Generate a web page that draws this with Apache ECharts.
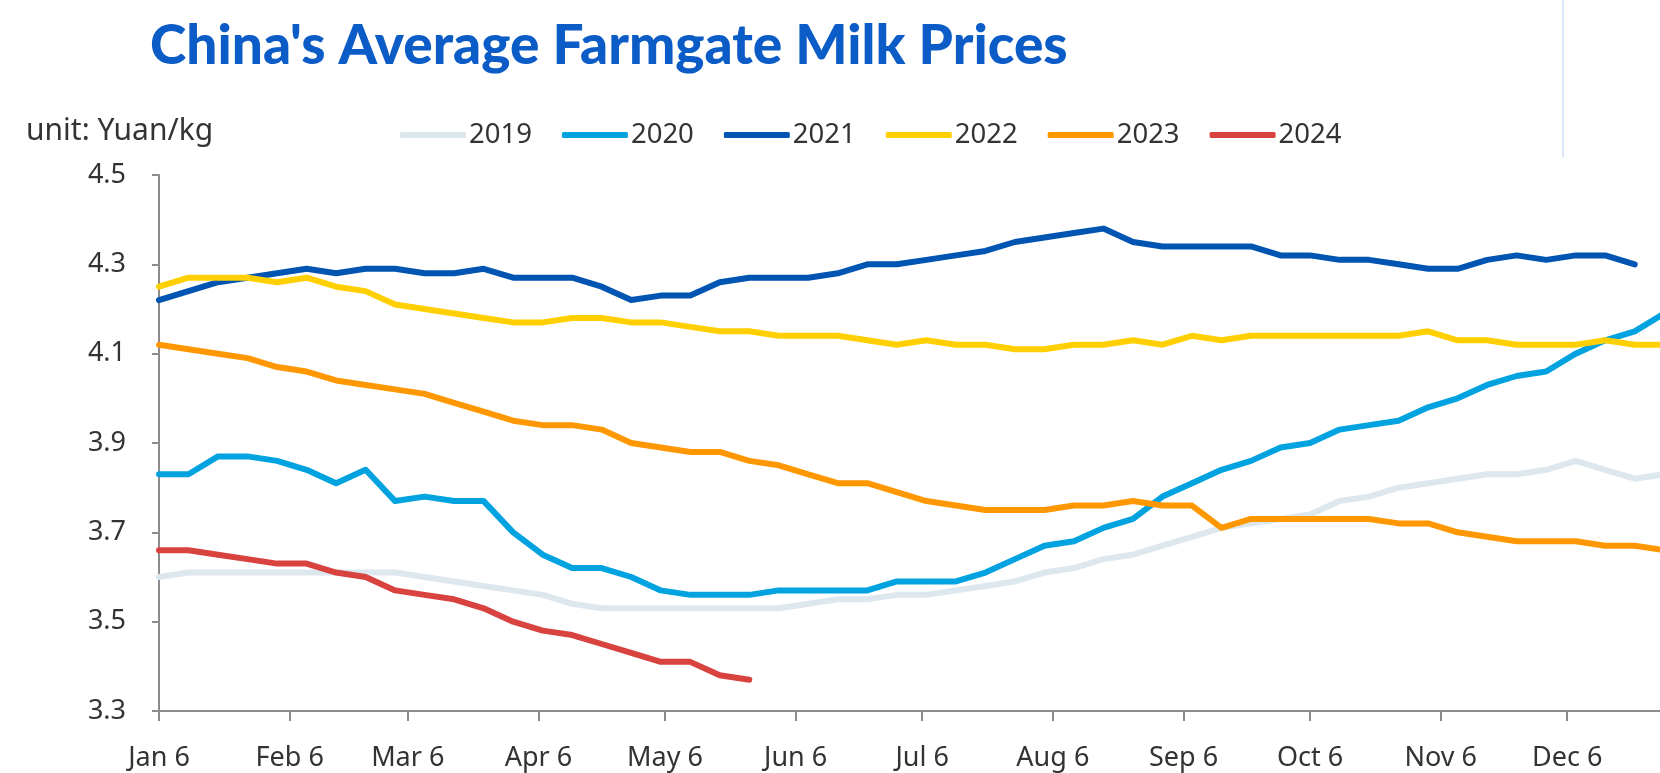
<!DOCTYPE html>
<html>
<head>
<meta charset="utf-8">
<script src="https://cdn.jsdelivr.net/npm/echarts@6/dist/echarts.min.js"></script>
<style>
  html, body { margin: 0; padding: 0; background: #ffffff; }
  #chart { width: 1660px; height: 773px; }
</style>
</head>
<body>
<div id="chart"></div>
<script>
// Weekly farmgate milk price (Yuan/kg), one value per week starting Jan 6
const years = ['2019', '2020', '2021', '2022', '2023', '2024'];

const price2019 = [3.60, 3.61, 3.61, 3.61, 3.61, 3.61, 3.61, 3.61, 3.61, 3.60, 3.59, 3.58, 3.57, 3.56, 3.54, 3.53, 3.53, 3.53, 3.53, 3.53, 3.53, 3.53, 3.54, 3.55, 3.55, 3.56, 3.56, 3.57, 3.58, 3.59, 3.61, 3.62, 3.64, 3.65, 3.67, 3.69, 3.71, 3.72, 3.73, 3.74, 3.77, 3.78, 3.80, 3.81, 3.82, 3.83, 3.83, 3.84, 3.86, 3.84, 3.82, 3.83];
const price2020 = [3.83, 3.83, 3.87, 3.87, 3.86, 3.84, 3.81, 3.84, 3.77, 3.78, 3.77, 3.77, 3.70, 3.65, 3.62, 3.62, 3.60, 3.57, 3.56, 3.56, 3.56, 3.57, 3.57, 3.57, 3.57, 3.59, 3.59, 3.59, 3.61, 3.64, 3.67, 3.68, 3.71, 3.73, 3.78, 3.81, 3.84, 3.86, 3.89, 3.90, 3.93, 3.94, 3.95, 3.98, 4.00, 4.03, 4.05, 4.06, 4.10, 4.13, 4.15, 4.19];
const price2021 = [4.22, 4.24, 4.26, 4.27, 4.28, 4.29, 4.28, 4.29, 4.29, 4.28, 4.28, 4.29, 4.27, 4.27, 4.27, 4.25, 4.22, 4.23, 4.23, 4.26, 4.27, 4.27, 4.27, 4.28, 4.30, 4.30, 4.31, 4.32, 4.33, 4.35, 4.36, 4.37, 4.38, 4.35, 4.34, 4.34, 4.34, 4.34, 4.32, 4.32, 4.31, 4.31, 4.30, 4.29, 4.29, 4.31, 4.32, 4.31, 4.32, 4.32, 4.30];
const price2022 = [4.25, 4.27, 4.27, 4.27, 4.26, 4.27, 4.25, 4.24, 4.21, 4.20, 4.19, 4.18, 4.17, 4.17, 4.18, 4.18, 4.17, 4.17, 4.16, 4.15, 4.15, 4.14, 4.14, 4.14, 4.13, 4.12, 4.13, 4.12, 4.12, 4.11, 4.11, 4.12, 4.12, 4.13, 4.12, 4.14, 4.13, 4.14, 4.14, 4.14, 4.14, 4.14, 4.14, 4.15, 4.13, 4.13, 4.12, 4.12, 4.12, 4.13, 4.12, 4.12];
const price2023 = [4.12, 4.11, 4.10, 4.09, 4.07, 4.06, 4.04, 4.03, 4.02, 4.01, 3.99, 3.97, 3.95, 3.94, 3.94, 3.93, 3.90, 3.89, 3.88, 3.88, 3.86, 3.85, 3.83, 3.81, 3.81, 3.79, 3.77, 3.76, 3.75, 3.75, 3.75, 3.76, 3.76, 3.77, 3.76, 3.76, 3.71, 3.73, 3.73, 3.73, 3.73, 3.73, 3.72, 3.72, 3.70, 3.69, 3.68, 3.68, 3.68, 3.67, 3.67, 3.66];
const price2024 = [3.66, 3.66, 3.65, 3.64, 3.63, 3.63, 3.61, 3.60, 3.57, 3.56, 3.55, 3.53, 3.50, 3.48, 3.47, 3.45, 3.43, 3.41, 3.41, 3.38, 3.37];

// Month tick labels and their day offsets from Jan 6
const tickLabels = ['Jan 6', 'Feb 6', 'Mar 6', 'Apr 6', 'May 6', 'Jun 6', 'Jul 6', 'Aug 6', 'Sep 6', 'Oct 6', 'Nov 6', 'Dec 6'];
const tickDays = [0, 31, 59, 90, 120, 151, 181, 212, 243, 273, 304, 334];

const lineColors = ['#dce7ee', '#00a3df', '#0054b2', '#ffcf00', '#ff9800', '#d8423f'];
const allPrices = [price2019, price2020, price2021, price2022, price2023, price2024];

const DAYS_PER_WEEK = 7;
const toPoints = vals => vals.map((v, i) => [i * DAYS_PER_WEEK, v]);

const textColor = '#333333';
const axisColor = '#8c8c8c';
const labelFont = 'Noto Sans';

const chart = echarts.init(document.getElementById('chart'), null, { renderer: 'canvas' });

chart.setOption({
  animation: false,
  backgroundColor: '#ffffff',
  title: [
    {
      text: "China's Average Farmgate Milk Prices",
      left: 150,
      top: 19,
      padding: 0,
      textStyle: {
        fontFamily: 'Lato',
        fontWeight: 900,
        fontSize: 55,
        color: '#0b5cc7'
      }
    },
    {
      text: 'unit: Yuan/kg',
      left: 26,
      top: 116,
      padding: 0,
      textStyle: {
        fontFamily: labelFont,
        fontWeight: 'normal',
        fontSize: 30,
        color: textColor
      }
    }
  ],
  legend: {
    data: years,
    left: 400,
    top: 121,
    padding: 0,
    icon: 'roundRect',
    itemWidth: 66,
    itemHeight: 6,
    itemGap: 30,
    textStyle: { fontFamily: labelFont, fontSize: 27.5, color: textColor, padding: [0, 0, 0, -2] }
  },
  graphic: [
    {
      type: 'line',
      shape: { x1: 1563, y1: 0, x2: 1563, y2: 157 },
      style: { stroke: '#cddff3', lineWidth: 1.5 }
    }
  ],
  grid: { left: 159, right: 0, top: 175, bottom: 62, containLabel: false },
  xAxis: {
    type: 'value',
    min: 0,
    max: 356,
    axisLine: { show: true, lineStyle: { color: axisColor, width: 2 } },
    axisTick: { show: true, customValues: tickDays, length: 10, lineStyle: { color: axisColor, width: 2 } },
    axisLabel: {
      customValues: tickDays,
      formatter: v => tickLabels[tickDays.indexOf(Math.round(v))] || '',
      margin: 34,
      fontFamily: labelFont,
      fontSize: 27,
      color: textColor
    },
    splitLine: { show: false }
  },
  yAxis: {
    type: 'value',
    min: 3.3,
    max: 4.5,
    interval: 0.2,
    axisLine: { show: true, lineStyle: { color: axisColor, width: 2 } },
    axisTick: { show: true, length: 7, lineStyle: { color: axisColor, width: 2 } },
    axisLabel: {
      formatter: v => v.toFixed(1),
      margin: 33,
      fontFamily: labelFont,
      fontSize: 27,
      color: textColor
    },
    splitLine: { show: false }
  },
  series: years.map((name, i) => ({
    name: name,
    type: 'line',
    data: toPoints(allPrices[i]),
    showSymbol: false,
    symbol: 'none',
    color: lineColors[i],
    lineStyle: { color: lineColors[i], width: 6, join: 'round', cap: 'round' },
    itemStyle: { color: lineColors[i] },
    clip: true
  }))
});
</script>
</body>
</html>
